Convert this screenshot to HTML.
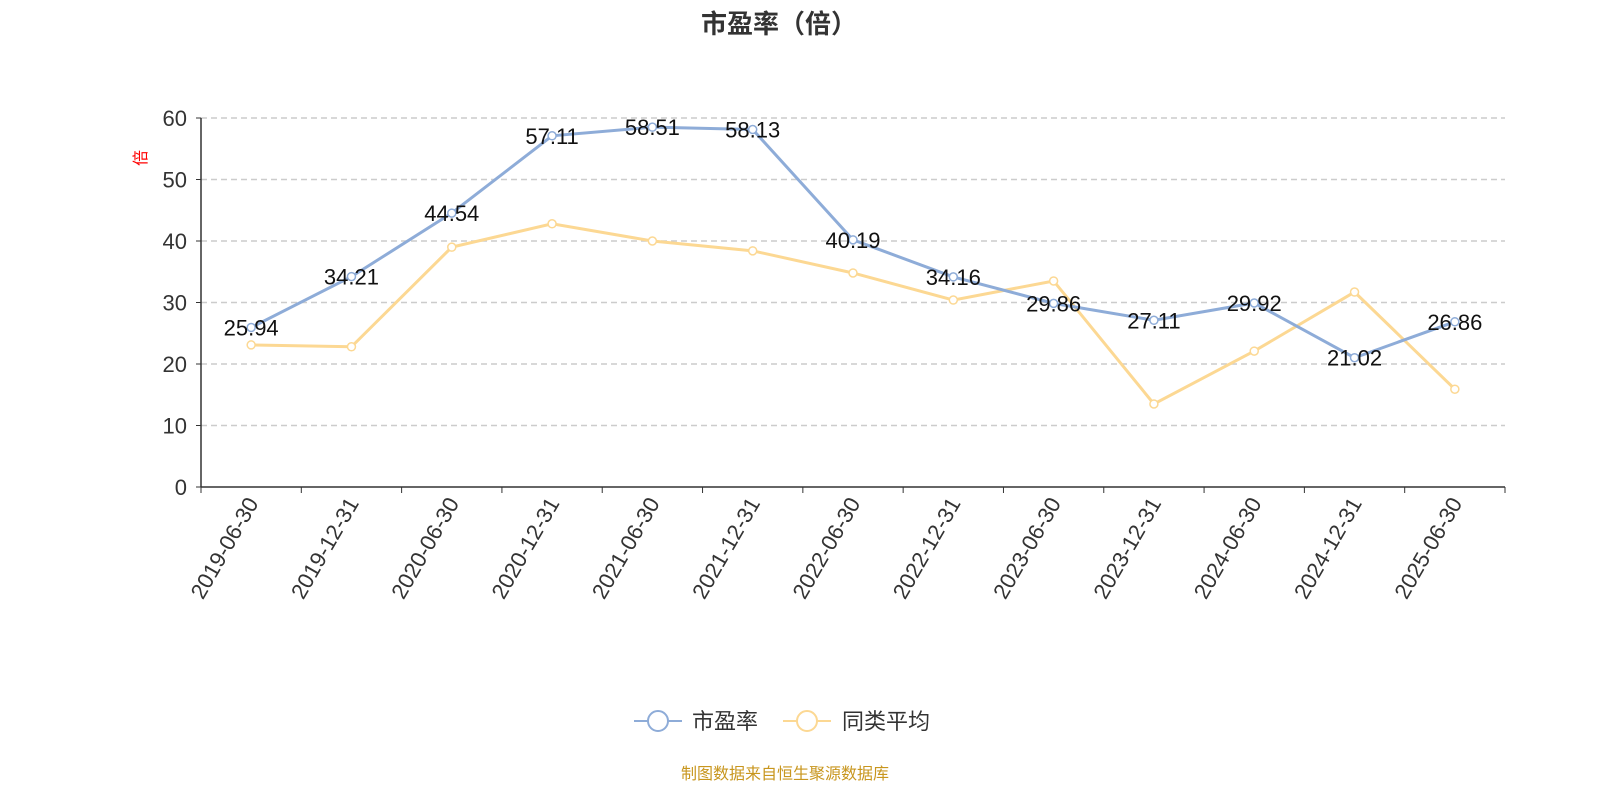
<!DOCTYPE html>
<html><head><meta charset="utf-8">
<style>
body{margin:0;background:#fff;overflow:hidden;}
svg text{font-family:"Liberation Sans","Noto Sans CJK SC",sans-serif;}
</style></head>
<body>
<svg id="chart" width="1600" height="800" viewBox="0 0 1600 800" xmlns="http://www.w3.org/2000/svg">
<text x="779" y="33" text-anchor="middle" font-size="26" font-weight="bold" fill="#333">市盈率（倍）</text>
<text x="0" y="0" font-size="16" fill="#f00" text-anchor="middle" transform="translate(146,158) rotate(-90)">倍</text>
<g id="grid"></g><g id="axes"></g><g id="series"></g>
<g>
 <g>
  <line x1="634" y1="721" x2="682" y2="721" stroke="#8eacd8" stroke-width="2"/>
  <circle cx="658" cy="721" r="10" fill="#fff" stroke="#8eacd8" stroke-width="2"/>
  <text x="692" y="729" font-size="22" fill="#333">市盈率</text>
 </g>
 <g>
  <line x1="783" y1="721" x2="831" y2="721" stroke="#fcd893" stroke-width="2"/>
  <circle cx="807" cy="721" r="10" fill="#fff" stroke="#fcd893" stroke-width="2"/>
  <text x="842" y="729" font-size="22" fill="#333">同类平均</text>
 </g>
</g>
<text x="785" y="779" text-anchor="middle" font-size="16" fill="#c8961e">制图数据来自恒生聚源数据库</text>
</svg>
<script>
const categories=["2019-06-30","2019-12-31","2020-06-30","2020-12-31","2021-06-30","2021-12-31","2022-06-30","2022-12-31","2023-06-30","2023-12-31","2024-06-30","2024-12-31","2025-06-30"];
const peValues=[25.94,34.21,44.54,57.11,58.51,58.13,40.19,34.16,29.86,27.11,29.92,21.02,26.86];
const peerAvgValues=[23.1,22.8,39.0,42.8,40.0,38.4,34.8,30.4,33.5,13.5,22.1,31.7,15.9];
const yTicks=[0,10,20,30,40,50,60];

const NS="http://www.w3.org/2000/svg";
const L=201,R=1505,T=118,B=487,yMax=60;
const step=(R-L)/categories.length;
function xPos(i){return L+step*(i+0.5);}
function yPos(v){return B-(v/yMax)*(B-T);}
function mk(tag,attrs,parent){const e=document.createElementNS(NS,tag);for(const k in attrs)e.setAttribute(k,attrs[k]);parent.appendChild(e);return e;}
const grid=document.getElementById('grid'),axes=document.getElementById('axes'),series=document.getElementById('series');

yTicks.forEach(t=>{
  const y=yPos(t);
  if(t>0){const g=mk('line',{x1:L,x2:R,y1:y,y2:y,stroke:'#ccc','stroke-dasharray':'6,4','stroke-width':1.5},grid);
  
  }
  const tk=mk('line',{x1:L-5,x2:L,y1:y,y2:y,stroke:'#333'},axes);
  
  
  const tx=mk('text',{x:L-14,y:y+8,'text-anchor':'end','font-size':22,fill:'#333'},axes);
  tx.textContent=t;
  
  
});
const ya=mk('line',{x1:L,x2:L,y1:T,y2:B,stroke:'#333','stroke-width':1.5},axes);


const xa=mk('line',{x1:L,x2:R,y1:B,y2:B,stroke:'#333','stroke-width':1.5},axes);


for(let i=0;i<=categories.length;i++){
  const x=L+step*i;
  const tk=mk('line',{x1:x,x2:x,y1:B,y2:B+6,stroke:'#333'},axes);
  
  
}
categories.forEach((c,i)=>{
  const x=xPos(i);
  const tx=mk('text',{x:0,y:0,'text-anchor':'end','font-size':22,fill:'#333',transform:`translate(${x+8},${B+16}) rotate(-60)`},axes);
  tx.textContent=c;
  
  
});

function drawSeries(vals,color,name,labels){
  const pts=vals.map((v,i)=>xPos(i)+','+yPos(v)).join(' ');
  const pl=mk('polyline',{points:pts,fill:'none',stroke:color,'stroke-width':3},series);
  
  
  vals.forEach((v,i)=>{
    const c=mk('circle',{cx:xPos(i),cy:yPos(v),r:4,fill:'#fff',stroke:color,'stroke-width':1.5},series);
    
    
    if(labels){
      const t=mk('text',{x:xPos(i),y:yPos(v)+8,'text-anchor':'middle','font-size':22,fill:'#111'},series);
      t.textContent=v.toFixed(2);
      
      
    }
  });
}
drawSeries(peerAvgValues,'#fcd893','peer-average',false);
drawSeries(peValues,'#8eacd8','pe-ratio',true);
</script>
</body></html>
